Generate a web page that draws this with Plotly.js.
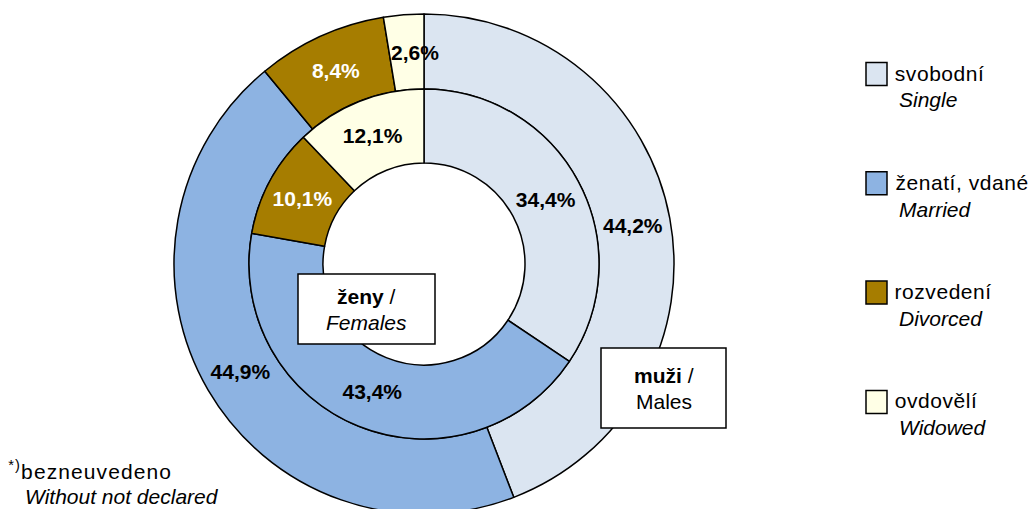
<!DOCTYPE html>
<html>
<head>
<meta charset="utf-8">
<script src="https://cdn.plot.ly/plotly-3.0.1.min.js"></script>
<style>
  html, body { margin: 0; padding: 0; overflow: hidden; background: #fff; }
  #chart { width: 1031px; height: 540px; }
</style>
</head>
<body>
<div id="chart"></div>
<script>
// ---- data ----
const categoriesCz = ['svobodní', 'ženatí, vdané', 'rozvedení', 'ovdovělí'];
const categoriesEn = ['Single', 'Married', 'Divorced', 'Widowed'];
const malesPct   = [44.2, 44.9, 8.4, 2.6];
const femalesPct = [34.4, 43.4, 10.1, 12.1];
const footnoteCz = 'bezneuvedeno';
const footnoteEn = 'Without not declared';

// ---- styles ----
const sliceColors = ['#DBE5F1', '#8DB3E2', '#A67D00', '#FFFFE6'];
const labelColors = ['#000000', '#000000', '#FFFFFF', '#000000'];
const FONT = 'Liberation Sans, Arial, sans-serif';
const FS = 21;
const LS_LEG = 0.55;            // letter spacing for legend Czech lines
const LS_FOOT = 1.1;            // letter spacing for footnote Czech line
const W = 1031, H = 540;
const CX = 424, CY = 264;       // pie centre (px)
const R_OUT = 250, R_MID = 175, R_IN = 101;

const px = x => x / W;
const py = y => 1 - y / H;
const fmt = v => v.toFixed(1).replace('.', ',') + '%';

function domainFor(r) {
  return { x: [px(CX - r), px(CX + r)], y: [py(CY + r), py(CY - r)] };
}

const maleText = malesPct.map(fmt);
const femaleText = femalesPct.map(fmt);
// the smallest male slice label is placed as an annotation (too thin for inside text)
const smallIdx = 3;
const malePos = malesPct.map((v, i) => i === smallIdx ? 'none' : 'inside');

const outer = {
  type: 'pie', values: malesPct, labels: categoriesCz, text: maleText,
  textinfo: 'text', textposition: malePos, insidetextorientation: 'horizontal',
  textfont: { family: FONT, size: FS, weight: 'bold', color: labelColors },
  sort: false, direction: 'clockwise', rotation: 0,
  hole: R_MID / R_OUT, domain: domainFor(R_OUT),
  marker: { colors: sliceColors, line: { color: '#000', width: 1.5 } },
  hoverinfo: 'none', showlegend: false
};
const inner = {
  type: 'pie', values: femalesPct, labels: categoriesCz, text: femaleText,
  textinfo: 'text', textposition: 'inside', insidetextorientation: 'horizontal',
  textfont: { family: FONT, size: FS, weight: 'bold', color: labelColors },
  sort: false, direction: 'clockwise', rotation: 0,
  hole: R_IN / R_MID, domain: domainFor(R_MID),
  marker: { colors: sliceColors, line: { color: '#000', width: 1.5 } },
  hoverinfo: 'none', showlegend: false
};

// annotation for the small slice, angle from data
const total = malesPct.reduce((a, b) => a + b, 0);
const before = malesPct.slice(0, smallIdx).reduce((a, b) => a + b, 0);
const midFrac = (before + malesPct[smallIdx] / 2) / total;
const ang = midFrac * 2 * Math.PI;
const rLab = (R_OUT + R_MID) / 2;
const smallX = CX + rLab * Math.sin(ang) + 8;
const smallY = CY - rLab * Math.cos(ang);

const shapes = [];
const annotations = [];
const spaced = [];   // [annotation index, spacing]

annotations.push({
  xref: 'paper', yref: 'paper', x: px(smallX), y: py(smallY),
  xanchor: 'center', yanchor: 'middle', showarrow: false,
  text: '<b>' + maleText[smallIdx] + '</b>',
  font: { family: FONT, size: FS, color: labelColors[smallIdx] }
});

// centre boxes
const boxes = [
  { x0: 298, x1: 435, y0: 274, y1: 344, l1: 'ženy', l2: '<i>Females</i>' },
  { x0: 601, x1: 726, y0: 348, y1: 428, l1: 'muži', l2: 'Males' }
];
boxes.forEach(b => {
  shapes.push({
    type: 'rect', xref: 'paper', yref: 'paper',
    x0: px(b.x0), x1: px(b.x1), y0: py(b.y1), y1: py(b.y0),
    fillcolor: '#fff', line: { color: '#000', width: 1.5 }
  });
  const cx = (b.x0 + b.x1) / 2, cy = (b.y0 + b.y1) / 2;
  annotations.push({
    xref: 'paper', yref: 'paper', x: px(cx), y: py(cy - 13),
    xanchor: 'center', yanchor: 'middle', showarrow: false,
    text: '<b>' + b.l1 + '</b> /', font: { family: FONT, size: FS, color: '#000' }
  });
  annotations.push({
    xref: 'paper', yref: 'paper', x: px(cx), y: py(cy + 13),
    xanchor: 'center', yanchor: 'middle', showarrow: false,
    text: b.l2, font: { family: FONT, size: FS, color: '#000' }
  });
});

// legend (manual, to match square size and spacing)
const legTop = 74, legStep = 109.3;
categoriesCz.forEach((c, i) => {
  const yc = legTop + i * legStep;
  shapes.push({
    type: 'rect', xref: 'paper', yref: 'paper',
    x0: px(866), x1: px(887), y0: py(yc + 11.5), y1: py(yc - 11.5),
    fillcolor: sliceColors[i], line: { color: '#000', width: 1.5 }
  });
  spaced.push([annotations.length, LS_LEG]);
  annotations.push({
    xref: 'paper', yref: 'paper', x: px(893 + c.length * LS_LEG / 2), y: py(yc - 1),
    xanchor: 'left', yanchor: 'middle', showarrow: false,
    text: c, font: { family: FONT, size: FS, color: '#000' }
  });
  annotations.push({
    xref: 'paper', yref: 'paper', x: px(897), y: py(yc + 26),
    xanchor: 'left', yanchor: 'middle', showarrow: false,
    text: '<i>' + categoriesEn[i] + '</i>', font: { family: FONT, size: FS, color: '#000' }
  });
});

// footnote
spaced.push([annotations.length, LS_FOOT]);
annotations.push({
  xref: 'paper', yref: 'paper', x: px(6 + (footnoteCz.length + 2) * LS_FOOT / 2), y: py(470),
  xanchor: 'left', yanchor: 'middle', showarrow: false,
  text: '<sup>*)</sup>' + footnoteCz, font: { family: FONT, size: FS, color: '#000' }
});
annotations.push({
  xref: 'paper', yref: 'paper', x: px(23), y: py(496),
  xanchor: 'left', yanchor: 'middle', showarrow: false,
  text: '<i>' + footnoteEn + '</i>', font: { family: FONT, size: FS, color: '#000' }
});

const layout = {
  width: W, height: H,
  margin: { l: 0, r: 0, t: 0, b: 0 },
  paper_bgcolor: '#fff', plot_bgcolor: '#fff',
  showlegend: false,
  shapes: shapes, annotations: annotations,
  font: { family: FONT }
};

Plotly.newPlot('chart', [outer, inner], layout, { displayModeBar: false, staticPlot: true })
  .then(gd => {
    spaced.forEach(([i, ls]) => {
      const t = gd.querySelector('g.annotation[data-index="' + i + '"] text.annotation-text');
      if (t) t.setAttribute('letter-spacing', ls + 'px');
    });
  });
</script>
</body>
</html>
